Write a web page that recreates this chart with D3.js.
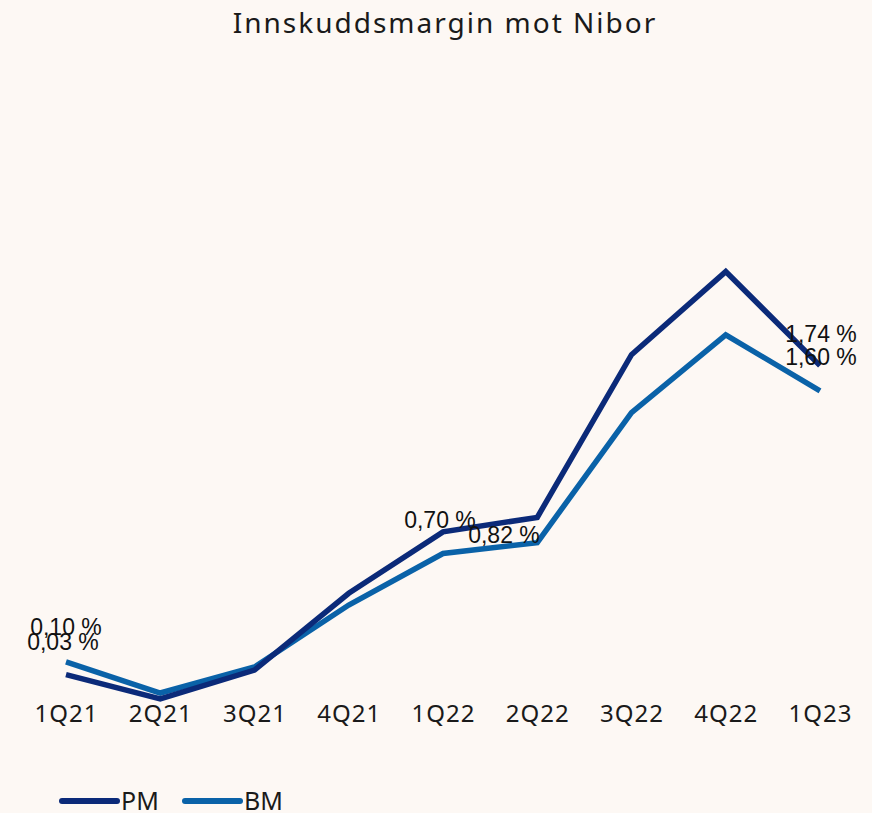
<!DOCTYPE html>
<html><head><meta charset="utf-8">
<script src="https://cdn.jsdelivr.net/npm/d3@7"></script>
<style>
html,body{margin:0;padding:0;background:#fdf8f4;}
svg{display:block;}
</style></head>
<body>
<svg id="chart" width="872" height="813"></svg>
<script>
const categories = ["1Q21","2Q21","3Q21","4Q21","1Q22","2Q22","3Q22","4Q22","1Q23"];
const pmValues = [0.03,-0.105,0.055,0.48,0.82,0.90,1.80,2.26,1.74];
const bmValues = [0.10,-0.072,0.072,0.415,0.70,0.76,1.48,1.91,1.60];
const seriesNames = ["PM","BM"];
const title = "Innskuddsmargin mot Nibor";
// data labels: series, category index
const labelPoints = [
  {s:"BM", i:0, dx:0, dy:-27},
  {s:"PM", i:0, dx:-3, dy:-25},
  {s:"BM", i:4, dx:-3, dy:-26},
  {s:"PM", i:4, dx:61, dy:11},
  {s:"PM", i:8, dx:1, dy:-24},
  {s:"BM", i:8, dx:1, dy:-26}
];

const colors = {PM:"#0b2a79", BM:"#0a62a8"};
const values = {PM:pmValues, BM:bmValues};
const svg = d3.select("#chart");
svg.append("rect").attr("width",872).attr("height",813).attr("fill","#fdf8f4");

const x = d3.scalePoint().domain(categories).range([66,820]);
const y = d3.scaleLinear().domain([0,1]).range([680,499.3]);

svg.append("text").attr("x",445).attr("y",33).attr("text-anchor","middle")
  .attr("font-family","'Noto Sans', sans-serif").attr("font-size",28).attr("letter-spacing","2px")
  .attr("fill","#1a1a1a").text(title);

// category axis labels (no axis line)
const xAxis = d3.axisBottom(x).tickSize(0).tickPadding(0);
const gx = svg.append("g").attr("transform","translate(0,705)").call(xAxis);
gx.select(".domain").remove();
gx.selectAll("text").attr("font-family","'Noto Sans', sans-serif").attr("font-size",24)
  .attr("letter-spacing","1px").attr("fill","#1a1a1a").attr("dy","0.71em");

const line = d3.line().x((d,i)=>x(categories[i])).y(d=>y(d));
["BM","PM"].forEach(s=>{
  svg.append("path").datum(values[s]).attr("d",line).attr("fill","none")
    .attr("stroke",colors[s]).attr("stroke-width",5.5).attr("stroke-linejoin","miter");
});

const fmt = v => v.toFixed(2).replace(".",",") + " %";
svg.selectAll(".dl").data(labelPoints).join("text").attr("class","dl")
  .attr("x",d=>x(categories[d.i])+d.dx).attr("y",d=>y(values[d.s][d.i])+d.dy)
  .attr("text-anchor","middle").attr("font-family","'Liberation Sans', Arial, sans-serif")
  .attr("font-size",23).attr("fill","#111").text(d=>fmt(values[d.s][d.i]));

// legend
const leg = svg.append("g");
const legX = [62,185];
seriesNames.forEach((s,k)=>{
  leg.append("line").attr("x1",legX[k]).attr("x2",legX[k]+55).attr("y1",801).attr("y2",801)
    .attr("stroke",colors[s]).attr("stroke-width",6).attr("stroke-linecap","round");
  leg.append("text").attr("x",legX[k]+59).attr("y",810).attr("font-family","'Noto Sans', sans-serif")
    .attr("font-size",25).attr("fill","#1a1a1a").text(s);
});
</script>
</body></html>
